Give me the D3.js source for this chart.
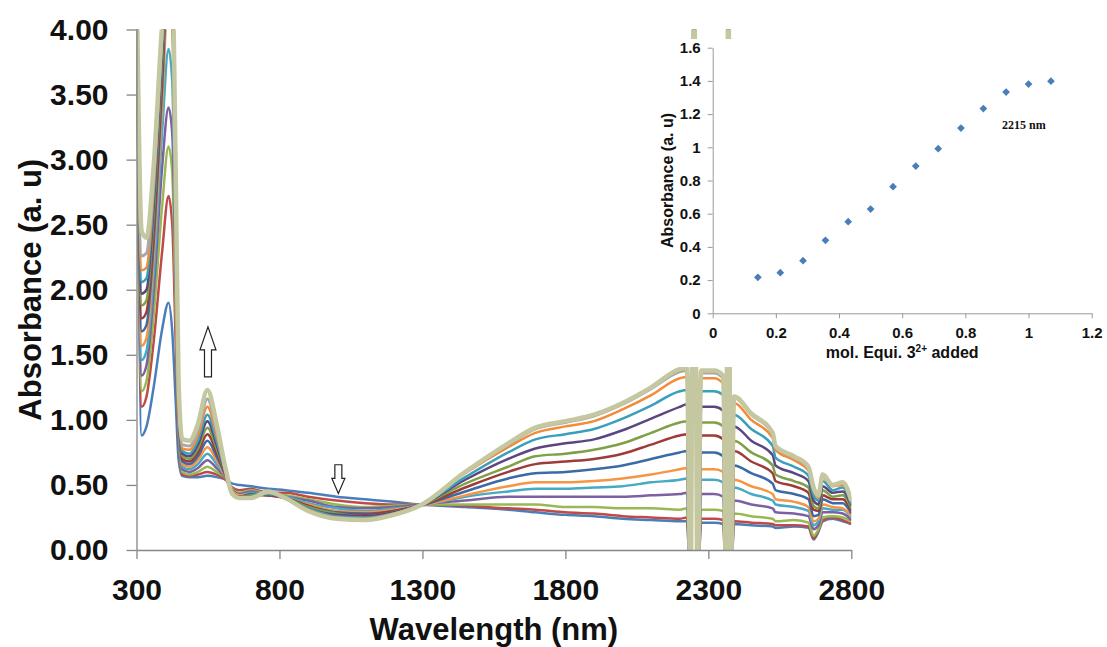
<!DOCTYPE html>
<html><head><meta charset="utf-8">
<script src="https://cdn.jsdelivr.net/npm/d3@7"></script>
<style>body{margin:0;background:#fff}</style>
</head><body><svg id="c" width="1107" height="647"></svg>
<script>
// ---- data ----
const wavelengths = [300,318,335,360,390,412,425,437,447,460, 485,515,548,580,612,635,660,700,760,820, 900,1000,1100,1200,1290,1450,1600,1695,1800,1900, 2000,2100,2200,2225,2238,2250,2262,2275,2320,2352, 2362,2370,2378,2390,2450,2525,2535,2600,2650,2668, 2685,2700,2735,2770,2800];

const abs00 = [4.5,0.88,0.95,1.25,1.70,1.90,1.68,1.15,0.70,0.57, 0.56,0.56,0.57,0.56,0.54,0.51,0.50,0.49,0.47,0.46, 0.44,0.41,0.39,0.37,0.35,0.33,0.31,0.29,0.27,0.26, 0.24,0.23,0.22,0.22,-0.3,4.6,-0.3,0.21,0.21,0.20, -0.3,4.6,-0.3,0.20,0.19,0.18,0.17,0.18,0.17,0.08, 0.14,0.22,0.24,0.22,0.20];
const abs01 = [4.5,1.10,1.18,1.60,2.30,2.72,2.50,1.60,0.85,0.58, 0.57,0.58,0.60,0.58,0.54,0.48,0.46,0.47,0.44,0.44, 0.41,0.38,0.36,0.35,0.35,0.34,0.32,0.31,0.29,0.28, 0.26,0.25,0.24,0.25,-0.3,4.6,-0.3,0.24,0.24,0.23, -0.3,4.6,-0.3,0.22,0.21,0.20,0.19,0.19,0.18,0.09, 0.15,0.23,0.25,0.23,0.20];
const abs02 = [4.5,1.22,1.30,1.80,2.65,3.10,2.90,1.85,0.95,0.60, 0.58,0.60,0.64,0.60,0.55,0.47,0.44,0.46,0.43,0.42, 0.39,0.35,0.33,0.34,0.35,0.35,0.35,0.35,0.33,0.33, 0.32,0.32,0.31,0.32,-0.3,4.6,-0.3,0.31,0.31,0.30, -0.3,4.6,-0.3,0.28,0.26,0.24,0.22,0.23,0.21,0.11, 0.16,0.25,0.26,0.25,0.22];
const abs03 = [4.5,1.34,1.42,1.98,2.95,3.40,3.20,2.05,1.00,0.62, 0.60,0.63,0.69,0.63,0.55,0.46,0.43,0.45,0.42,0.41, 0.38,0.33,0.32,0.33,0.35,0.38,0.41,0.41,0.41,0.41, 0.41,0.42,0.43,0.44,-0.3,4.6,-0.3,0.43,0.43,0.41, -0.3,4.6,-0.3,0.38,0.35,0.32,0.29,0.28,0.26,0.16, 0.19,0.29,0.29,0.28,0.23];
const abs04 = [4.5,1.46,1.53,2.12,3.22,3.85,3.60,2.25,1.05,0.64, 0.62,0.66,0.74,0.66,0.56,0.45,0.42,0.44,0.42,0.41, 0.36,0.32,0.30,0.32,0.34,0.41,0.45,0.47,0.47,0.48, 0.49,0.52,0.54,0.55,-0.3,4.6,-0.3,0.54,0.54,0.52, -0.3,4.6,-0.3,0.48,0.43,0.38,0.35,0.33,0.30,0.19, 0.22,0.32,0.31,0.31,0.25];
const abs05 = [4.5,1.57,1.63,2.25,3.42,4.30,4.00,2.40,1.10,0.66, 0.64,0.69,0.79,0.69,0.56,0.45,0.42,0.43,0.42,0.40, 0.35,0.30,0.29,0.31,0.34,0.42,0.49,0.52,0.52,0.53, 0.55,0.58,0.62,0.63,-0.3,4.6,-0.3,0.62,0.62,0.60, -0.3,4.6,-0.3,0.54,0.49,0.43,0.39,0.37,0.33,0.22, 0.24,0.35,0.33,0.32,0.26];
const abs06 = [4.5,1.68,1.73,2.36,3.57,4.50,4.20,2.50,1.12,0.68, 0.66,0.72,0.84,0.72,0.57,0.44,0.41,0.43,0.42,0.40, 0.34,0.29,0.28,0.30,0.34,0.45,0.55,0.59,0.60,0.62, 0.65,0.70,0.75,0.76,-0.3,4.6,-0.3,0.75,0.75,0.72, -0.3,4.6,-0.3,0.65,0.59,0.51,0.46,0.43,0.39,0.26, 0.27,0.39,0.36,0.36,0.28];
const abs07 = [4.5,1.78,1.83,2.47,3.68,4.60,4.30,2.60,1.15,0.70, 0.68,0.75,0.89,0.75,0.57,0.44,0.41,0.42,0.42,0.40, 0.34,0.28,0.27,0.30,0.34,0.48,0.60,0.66,0.68,0.70, 0.74,0.81,0.88,0.89,-0.3,4.6,-0.3,0.88,0.88,0.85, -0.3,4.6,-0.3,0.76,0.68,0.59,0.53,0.49,0.44,0.31, 0.30,0.42,0.39,0.39,0.30];
const abs08 = [4.5,1.88,1.92,2.57,3.77,4.60,4.35,2.65,1.18,0.72, 0.70,0.78,0.94,0.78,0.58,0.44,0.41,0.42,0.43,0.40, 0.33,0.28,0.26,0.29,0.34,0.51,0.64,0.72,0.74,0.77, 0.82,0.90,0.98,0.99,-0.3,4.6,-0.3,0.98,0.98,0.95, -0.3,4.6,-0.3,0.84,0.75,0.65,0.58,0.53,0.48,0.34, 0.32,0.46,0.41,0.42,0.32];
const abs09 = [4.5,1.97,2.00,2.65,3.84,4.60,4.40,2.70,1.20,0.74, 0.72,0.81,0.99,0.81,0.58,0.43,0.41,0.41,0.43,0.40, 0.32,0.27,0.26,0.29,0.34,0.54,0.70,0.78,0.82,0.85, 0.92,1.01,1.10,1.12,-0.3,4.6,-0.3,1.10,1.10,1.07, -0.3,4.6,-0.3,0.95,0.84,0.73,0.65,0.59,0.53,0.38, 0.35,0.49,0.44,0.45,0.34];
const abs10 = [4.5,2.06,2.09,2.73,3.90,4.60,4.40,2.75,1.22,0.76, 0.74,0.84,1.04,0.84,0.59,0.43,0.40,0.41,0.43,0.40, 0.32,0.26,0.25,0.28,0.34,0.56,0.75,0.85,0.89,0.93, 1.01,1.11,1.22,1.23,-0.3,4.6,-0.3,1.22,1.22,1.19, -0.3,4.6,-0.3,1.04,0.93,0.80,0.71,0.64,0.57,0.42, 0.38,0.53,0.46,0.48,0.35];
const abs11 = [4.5,2.15,2.17,2.80,3.95,4.60,4.40,2.80,1.25,0.78, 0.77,0.88,1.10,0.88,0.60,0.43,0.40,0.40,0.44,0.40, 0.31,0.25,0.24,0.28,0.34,0.59,0.79,0.90,0.95,0.99, 1.08,1.19,1.32,1.33,-0.3,4.6,-0.3,1.32,1.32,1.28, -0.3,4.6,-0.3,1.13,1.00,0.86,0.77,0.69,0.61,0.46, 0.40,0.56,0.49,0.50,0.37];
const abs12 = [4.5,2.26,2.28,2.87,4.00,4.60,4.40,2.85,1.27,0.81, 0.80,0.92,1.16,0.92,0.61,0.43,0.40,0.40,0.44,0.40, 0.30,0.24,0.23,0.27,0.34,0.60,0.81,0.93,0.98,1.03, 1.12,1.24,1.37,1.38,-0.3,4.6,-0.3,1.36,1.36,1.32, -0.3,4.6,-0.3,1.17,1.04,0.89,0.79,0.71,0.63,0.47, 0.42,0.57,0.50,0.52,0.38];
const abs13 = [4.5,2.45,2.40,2.95,4.05,4.60,4.45,2.92,1.30,0.85, 0.84,0.97,1.23,0.97,0.62,0.43,0.40,0.40,0.45,0.40, 0.30,0.24,0.23,0.27,0.34,0.60,0.82,0.94,0.99,1.04, 1.13,1.25,1.39,1.40,-0.3,4.6,-0.3,1.38,1.38,1.34, -0.3,4.6,-0.3,1.18,1.05,0.90,0.80,0.72,0.64,0.48, 0.42,0.58,0.50,0.52,0.38];

const seriesValues = [abs00,abs01,abs02,abs03,abs04,abs05,abs06,abs07,abs08,abs09,abs10,abs11,abs12,abs13];
const seriesColors = ["#4A7EBB","#BE4B48","#98B954","#7D60A0","#46AAC5","#F69544","#3C6AA5","#9E3B39","#7FA046","#5B4680","#3A9FBA","#F28C3A","#A8A8A8","#C4C79F"];

const xTicks = [300,800,1300,1800,2300,2800];
const yTicks = [0,0.5,1,1.5,2,2.5,3,3.5,4];

// inset: absorbance at 2215 nm vs mol. equiv.
const insetEquiv = [0.143,0.214,0.286,0.357,0.429,0.500,0.571,0.643,0.714,0.786,0.857,0.929,1.000,1.071];
const insetAbs   = [0.217,0.245,0.317,0.440,0.552,0.628,0.763,0.887,0.992,1.116,1.233,1.333,1.381,1.398];
const insetXTicks = [0,0.2,0.4,0.6,0.8,1,1.2];
const insetYTicks = [0,0.2,0.4,0.6,0.8,1,1.2,1.4,1.6];

// ---- drawing ----
const FONT = "'Liberation Sans', Arial, sans-serif";
const svg = d3.select("#c");
svg.append("rect").attr("width",1107).attr("height",647).attr("fill","#fff");

const x = d3.scaleLinear().domain([300,2800]).range([136.5,851.3]);
const y = d3.scaleLinear().domain([0,4]).range([550,29.5]);

svg.append("clipPath").attr("id","plotclip").append("rect")
  .attr("x",x(300)).attr("y",y(4)).attr("width",x(2800)-x(300)).attr("height",y(0)-y(4));

const line = d3.line().x((d,i)=>x(wavelengths[i])).y(d=>y(d)).curve(d3.curveMonotoneX);
const lines = svg.append("g").attr("clip-path","url(#plotclip)");
seriesValues.forEach((vals,k)=>{
  lines.append("path").attr("d",line(vals)).attr("fill","none")
    .attr("stroke",seriesColors[k])
    .attr("stroke-width", k===seriesValues.length-1 ? 4.5 : (k===seriesValues.length-2 ? 3 : 2.5))
    .attr("stroke-linejoin","round");
});

// axes
const gy = svg.append("g").attr("transform",`translate(${x(300)},0)`)
  .call(d3.axisLeft(y).tickValues(yTicks).tickFormat(d3.format(".2f")).tickSize(10).tickSizeOuter(0).tickPadding(18));
const gx = svg.append("g").attr("transform",`translate(0,${y(0)})`)
  .call(d3.axisBottom(x).tickValues(xTicks).tickFormat(d3.format("d")).tickSize(9).tickSizeOuter(0).tickPadding(20));
[gx,gy].forEach(g=>{
  g.select(".domain").attr("stroke","#868686").attr("stroke-width",1.3);
  g.selectAll(".tick line").attr("stroke","#868686").attr("stroke-width",1.3);
  g.selectAll(".tick text").attr("fill","#111").style("font-family",FONT).style("font-weight","bold").style("font-size","30px");
});

svg.append("text").attr("x",(x(300)+x(2800))/2).attr("y",640).attr("text-anchor","middle")
  .style("font-family",FONT).style("font-weight","bold").style("font-size","31px").attr("fill","#111")
  .text("Wavelength (nm)");
svg.append("text").attr("transform",`translate(41,${(y(0)+y(4))/2}) rotate(-90)`).attr("text-anchor","middle")
  .style("font-family",FONT).style("font-weight","bold").style("font-size","31px").attr("fill","#111")
  .text("Absorbance (a. u)");

// arrows (annotations placed via scales)
function arrow(cx, yTip, yTail, headH, headW, shaftW, dir){
  const s = dir; // -1 = pointing up, +1 = pointing down
  const p = d3.path();
  const yHead = yTip - s*headH;
  p.moveTo(cx, yTip);
  p.lineTo(cx+headW/2, yHead);
  p.lineTo(cx+shaftW/2, yHead);
  p.lineTo(cx+shaftW/2, yTail);
  p.lineTo(cx-shaftW/2, yTail);
  p.lineTo(cx-shaftW/2, yHead);
  p.lineTo(cx-headW/2, yHead);
  p.closePath();
  svg.append("path").attr("d",p.toString()).attr("fill","#fff").attr("stroke","#222").attr("stroke-width",1.2);
}
arrow(x(550), y(1.715), y(1.33), 23, 16, 7, -1);
arrow(x(1006), y(0.435), y(0.655), 15, 13, 7, 1);

// ---- inset ----
svg.append("rect").attr("x",650).attr("y",39).attr("width",457).attr("height",328).attr("fill","#fff");
const ix = d3.scaleLinear().domain([0,1.2]).range([712.7,1091.7]);
const iy = d3.scaleLinear().domain([0,1.6]).range([313.3,47.7]);
const igy = svg.append("g").attr("transform",`translate(${ix(0)},0)`)
  .call(d3.axisLeft(iy).tickValues(insetYTicks).tickFormat(d3.format(".1~f")).tickSize(5).tickSizeOuter(0).tickPadding(7));
const igx = svg.append("g").attr("transform",`translate(0,${iy(0)})`)
  .call(d3.axisBottom(ix).tickValues(insetXTicks).tickFormat(d3.format(".1~f")).tickSize(5).tickSizeOuter(0).tickPadding(9));
[igx,igy].forEach(g=>{
  g.select(".domain").attr("stroke","#9a9a9a").attr("stroke-width",1);
  g.selectAll(".tick line").attr("stroke","#9a9a9a");
  g.selectAll(".tick text").attr("fill","#111").style("font-family",FONT).style("font-weight","bold").style("font-size","15px");
});
svg.append("g").selectAll("path").data(insetEquiv).join("path")
  .attr("d",d3.symbol().type(d3.symbolSquare).size(30))
  .attr("transform",(d,i)=>`translate(${ix(d)},${iy(insetAbs[i])}) rotate(45)`)
  .attr("fill","#4A7EBB");
const ixt = svg.append("text").attr("x",(ix(0)+ix(1.2))/2).attr("y",358).attr("text-anchor","middle")
  .style("font-family",FONT).style("font-weight","bold").style("font-size","16px").attr("fill","#111");
ixt.append("tspan").text("mol. Equi. 3");
ixt.append("tspan").attr("dy",-6).style("font-size","10px").text("2+");
ixt.append("tspan").attr("dy",6).text(" added");
svg.append("text").attr("transform",`translate(673,${(iy(0)+iy(1.6))/2}) rotate(-90)`).attr("text-anchor","middle")
  .style("font-family",FONT).style("font-weight","bold").style("font-size","16px").attr("fill","#111")
  .text("Absorbance (a. u)");
svg.append("text").attr("x",1002).attr("y",129)
  .style("font-family","'Liberation Serif', 'Times New Roman', serif").style("font-weight","bold").style("font-size","12px").attr("fill","#111")
  .text("2215 nm");
</script></body></html>
